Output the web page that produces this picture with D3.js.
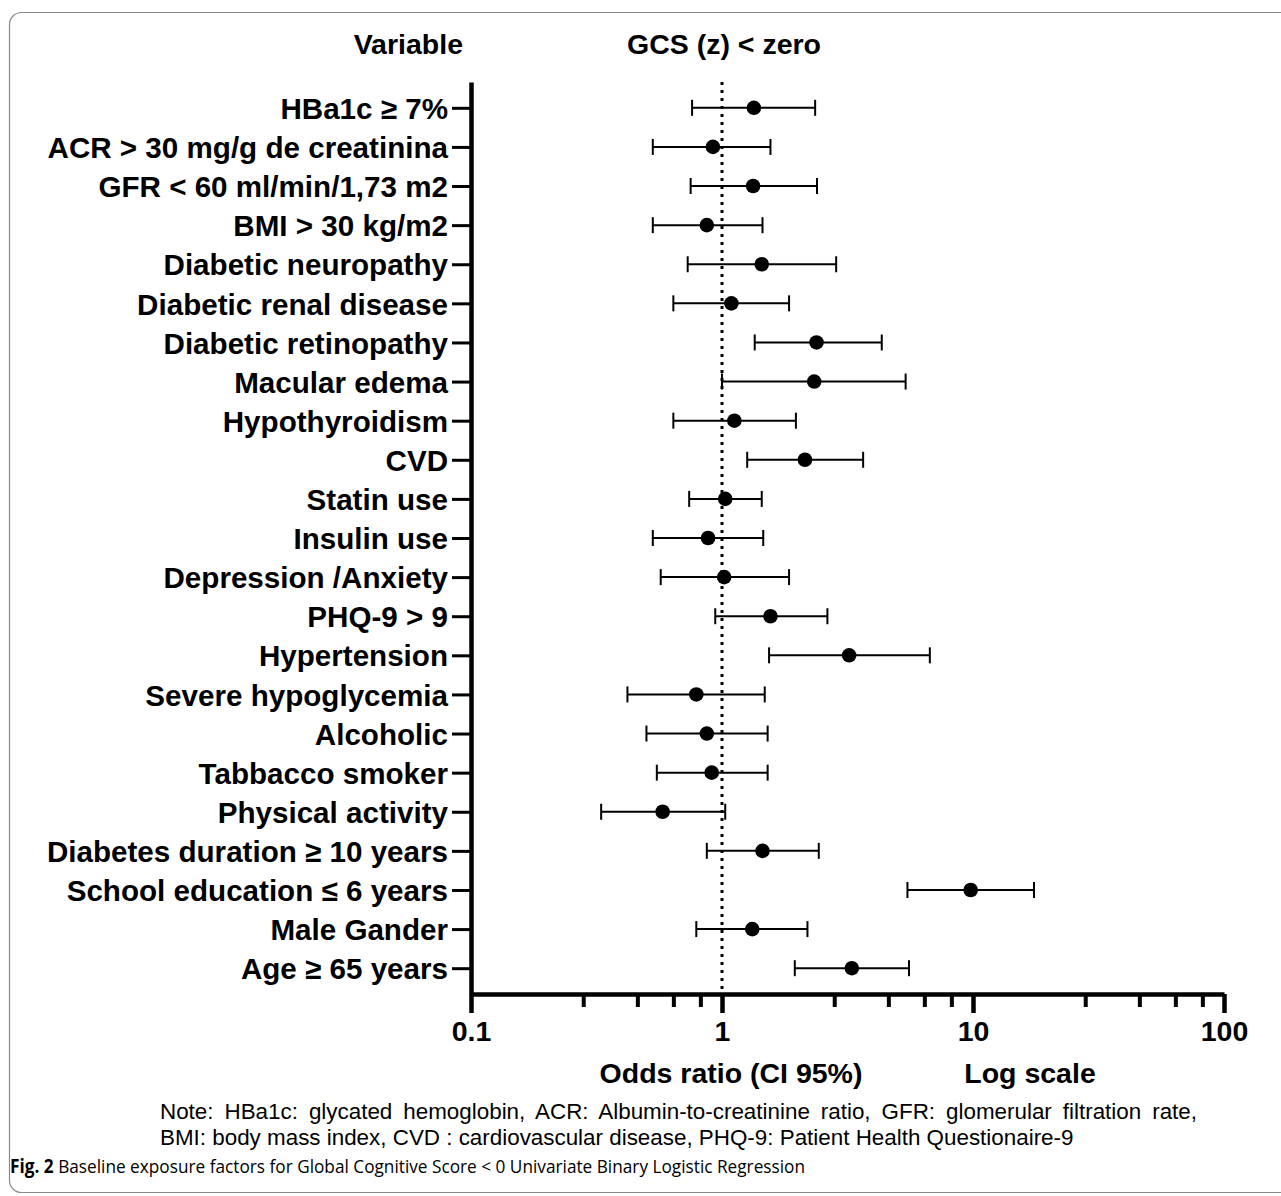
<!DOCTYPE html>
<html>
<head>
  <style>
    body { margin: 0; background: #fff; }
    .lab { font-family: "Liberation Sans", Arial, sans-serif; font-weight: bold; fill: #000; }
  </style>
</head>
<body>
  <script src="https://d3js.org/d3.v7.min.js"></script>
  <svg id="chart" width="1281" height="1196"></svg>
  <script>
    // variables, top to bottom
    var variables = ["HBa1c \u2265 7%", "ACR > 30 mg/g de creatinina", "GFR < 60 ml/min/1,73 m2",
      "BMI > 30 kg/m2", "Diabetic neuropathy", "Diabetic renal disease", "Diabetic retinopathy",
      "Macular edema", "Hypothyroidism", "CVD", "Statin use", "Insulin use", "Depression /Anxiety",
      "PHQ-9 > 9", "Hypertension", "Severe hypoglycemia", "Alcoholic", "Tabbacco smoker",
      "Physical activity", "Diabetes duration \u2265 10 years", "School education \u2264 6 years",
      "Male Gander", "Age \u2265 65 years"];
    var oddsRatio = [1.34, 0.92, 1.33, 0.87, 1.44, 1.09, 2.38, 2.33, 1.12, 2.14, 1.03, 0.88, 1.02,
      1.56, 3.21, 0.79, 0.87, 0.91, 0.58, 1.45, 9.79, 1.32, 3.29];
    var ciLow = [0.76, 0.53, 0.75, 0.53, 0.73, 0.64, 1.35, 1.0, 0.64, 1.26, 0.74, 0.53, 0.57,
      0.94, 1.54, 0.42, 0.50, 0.55, 0.33, 0.87, 5.48, 0.79, 1.95];
    var ciHigh = [2.35, 1.56, 2.39, 1.45, 2.85, 1.85, 4.33, 5.39, 1.97, 3.65, 1.44, 1.46, 1.85,
      2.63, 6.73, 1.48, 1.52, 1.52, 1.03, 2.43, 17.5, 2.19, 5.56];
    var majorTicks = [0.1, 1, 10, 100];
    var minorTicks = [0.28, 0.46, 0.64, 0.82, 2.8, 4.6, 6.4, 8.2, 28, 46, 64, 82];

    var rows = variables.map(function(v, i) {
      return { name: v, or: oddsRatio[i], lo: ciLow[i], hi: ciHigh[i] };
    });

    var svg = d3.select("#chart");

    // frame
    svg.append("rect")
      .attr("x", 9.5).attr("y", 12.5)
      .attr("width", 1300).attr("height", 1180)
      .attr("rx", 12)
      .attr("fill", "none").attr("stroke", "#8a8a8a").attr("stroke-width", 1.2);

    var x = d3.scaleLog().domain([0.1, 100]).range([471, 1224]);
    var y = d3.scalePoint().domain(variables).range([82, 994]).padding(0.66);

    // reference line at OR = 1
    svg.append("line")
      .attr("x1", x(1)).attr("x2", x(1))
      .attr("y1", 82).attr("y2", 994)
      .attr("stroke", "#000").attr("stroke-width", 3)
      .attr("stroke-dasharray", "3 5");

    // y axis
    var yAxis = svg.append("g")
      .attr("transform", "translate(" + x(0.1) + ",0)")
      .call(d3.axisLeft(y).tickSize(19).tickSizeOuter(0).tickPadding(4));
    yAxis.select(".domain").attr("stroke-width", 4.5);
    yAxis.selectAll(".tick line").attr("stroke-width", 3);
    yAxis.selectAll(".tick text")
      .attr("class", "lab")
      .style("font-size", "29.6px")
      .attr("dy", "0.36em");

    // x axis, minor ticks
    var xMinor = svg.append("g")
      .attr("transform", "translate(0,994)")
      .call(d3.axisBottom(x).tickValues(minorTicks).tickSize(13).tickSizeOuter(0).tickFormat(""));
    xMinor.select(".domain").remove();
    xMinor.selectAll(".tick line").attr("stroke-width", 4);

    // x axis, major ticks
    var xAxis = svg.append("g")
      .attr("transform", "translate(0,994)")
      .call(d3.axisBottom(x).tickValues(majorTicks).tickSize(19).tickSizeOuter(0)
        .tickPadding(8).tickFormat(function(d) { return d3.format("")(d); }));
    xAxis.select(".domain").attr("stroke-width", 4.5);
    xAxis.selectAll(".tick line").attr("stroke-width", 4.5);
    xAxis.selectAll(".tick text")
      .attr("class", "lab")
      .style("font-size", "28.5px");

    // error bars
    var g = svg.append("g");
    g.selectAll(".ci").data(rows).enter().append("line")
      .attr("x1", function(d) { return x(d.lo); })
      .attr("x2", function(d) { return x(d.hi); })
      .attr("y1", function(d) { return y(d.name); })
      .attr("y2", function(d) { return y(d.name); })
      .attr("stroke", "#000").attr("stroke-width", 2);
    g.selectAll(".capL").data(rows).enter().append("line")
      .attr("x1", function(d) { return x(d.lo); })
      .attr("x2", function(d) { return x(d.lo); })
      .attr("y1", function(d) { return y(d.name) - 8; })
      .attr("y2", function(d) { return y(d.name) + 8; })
      .attr("stroke", "#000").attr("stroke-width", 2);
    g.selectAll(".capR").data(rows).enter().append("line")
      .attr("x1", function(d) { return x(d.hi); })
      .attr("x2", function(d) { return x(d.hi); })
      .attr("y1", function(d) { return y(d.name) - 8; })
      .attr("y2", function(d) { return y(d.name) + 8; })
      .attr("stroke", "#000").attr("stroke-width", 2);
    g.selectAll("circle").data(rows).enter().append("circle")
      .attr("cx", function(d) { return x(d.or); })
      .attr("cy", function(d) { return y(d.name); })
      .attr("r", 7.3)
      .attr("fill", "#000");

    // headers
    svg.append("text").attr("class", "lab")
      .attr("x", 463).attr("y", 54).attr("text-anchor", "end")
      .style("font-size", "28.5px").text("Variable");
    svg.append("text").attr("class", "lab")
      .attr("x", 724).attr("y", 54).attr("text-anchor", "middle")
      .style("font-size", "28.5px").text("GCS (z) < zero");

    // axis titles
    svg.append("text").attr("class", "lab")
      .attr("x", 731).attr("y", 1083).attr("text-anchor", "middle")
      .style("font-size", "28.5px").text("Odds ratio (CI 95%)");
    svg.append("text").attr("class", "lab")
      .attr("x", 1030).attr("y", 1083).attr("text-anchor", "middle")
      .style("font-size", "28.5px").text("Log scale");

    // note (first line justified by word spacing)
    var note1 = svg.append("text")
      .attr("x", 160).attr("y", 1119)
      .style("font-family", "Liberation Sans, Arial, sans-serif").style("font-size", "22.4px")
      .text("Note: HBa1c: glycated hemoglobin, ACR: Albumin-to-creatinine ratio, GFR: glomerular filtration rate,");
    var w1 = note1.node().getComputedTextLength();
    var gaps = note1.text().split(" ").length - 1;
    note1.style("word-spacing", ((1197 - 160 - w1) / gaps) + "px");
    svg.append("text")
      .attr("x", 160).attr("y", 1145)
      .style("font-family", "Liberation Sans, Arial, sans-serif").style("font-size", "22.4px")
      .text("BMI: body mass index, CVD : cardiovascular disease, PHQ-9: Patient Health Questionaire-9");

    // caption
    var cap = svg.append("text")
      .attr("x", 10).attr("y", 1173)
      .attr("textLength", 795).attr("lengthAdjust", "spacingAndGlyphs")
      .style("font-family", "Open Sans, sans-serif").style("font-size", "19px");
    cap.append("tspan").style("font-weight", "bold").text("Fig. 2");
    cap.append("tspan").text("  Baseline exposure factors for Global Cognitive Score < 0 Univariate Binary Logistic Regression");
  </script>
</body>
</html>
